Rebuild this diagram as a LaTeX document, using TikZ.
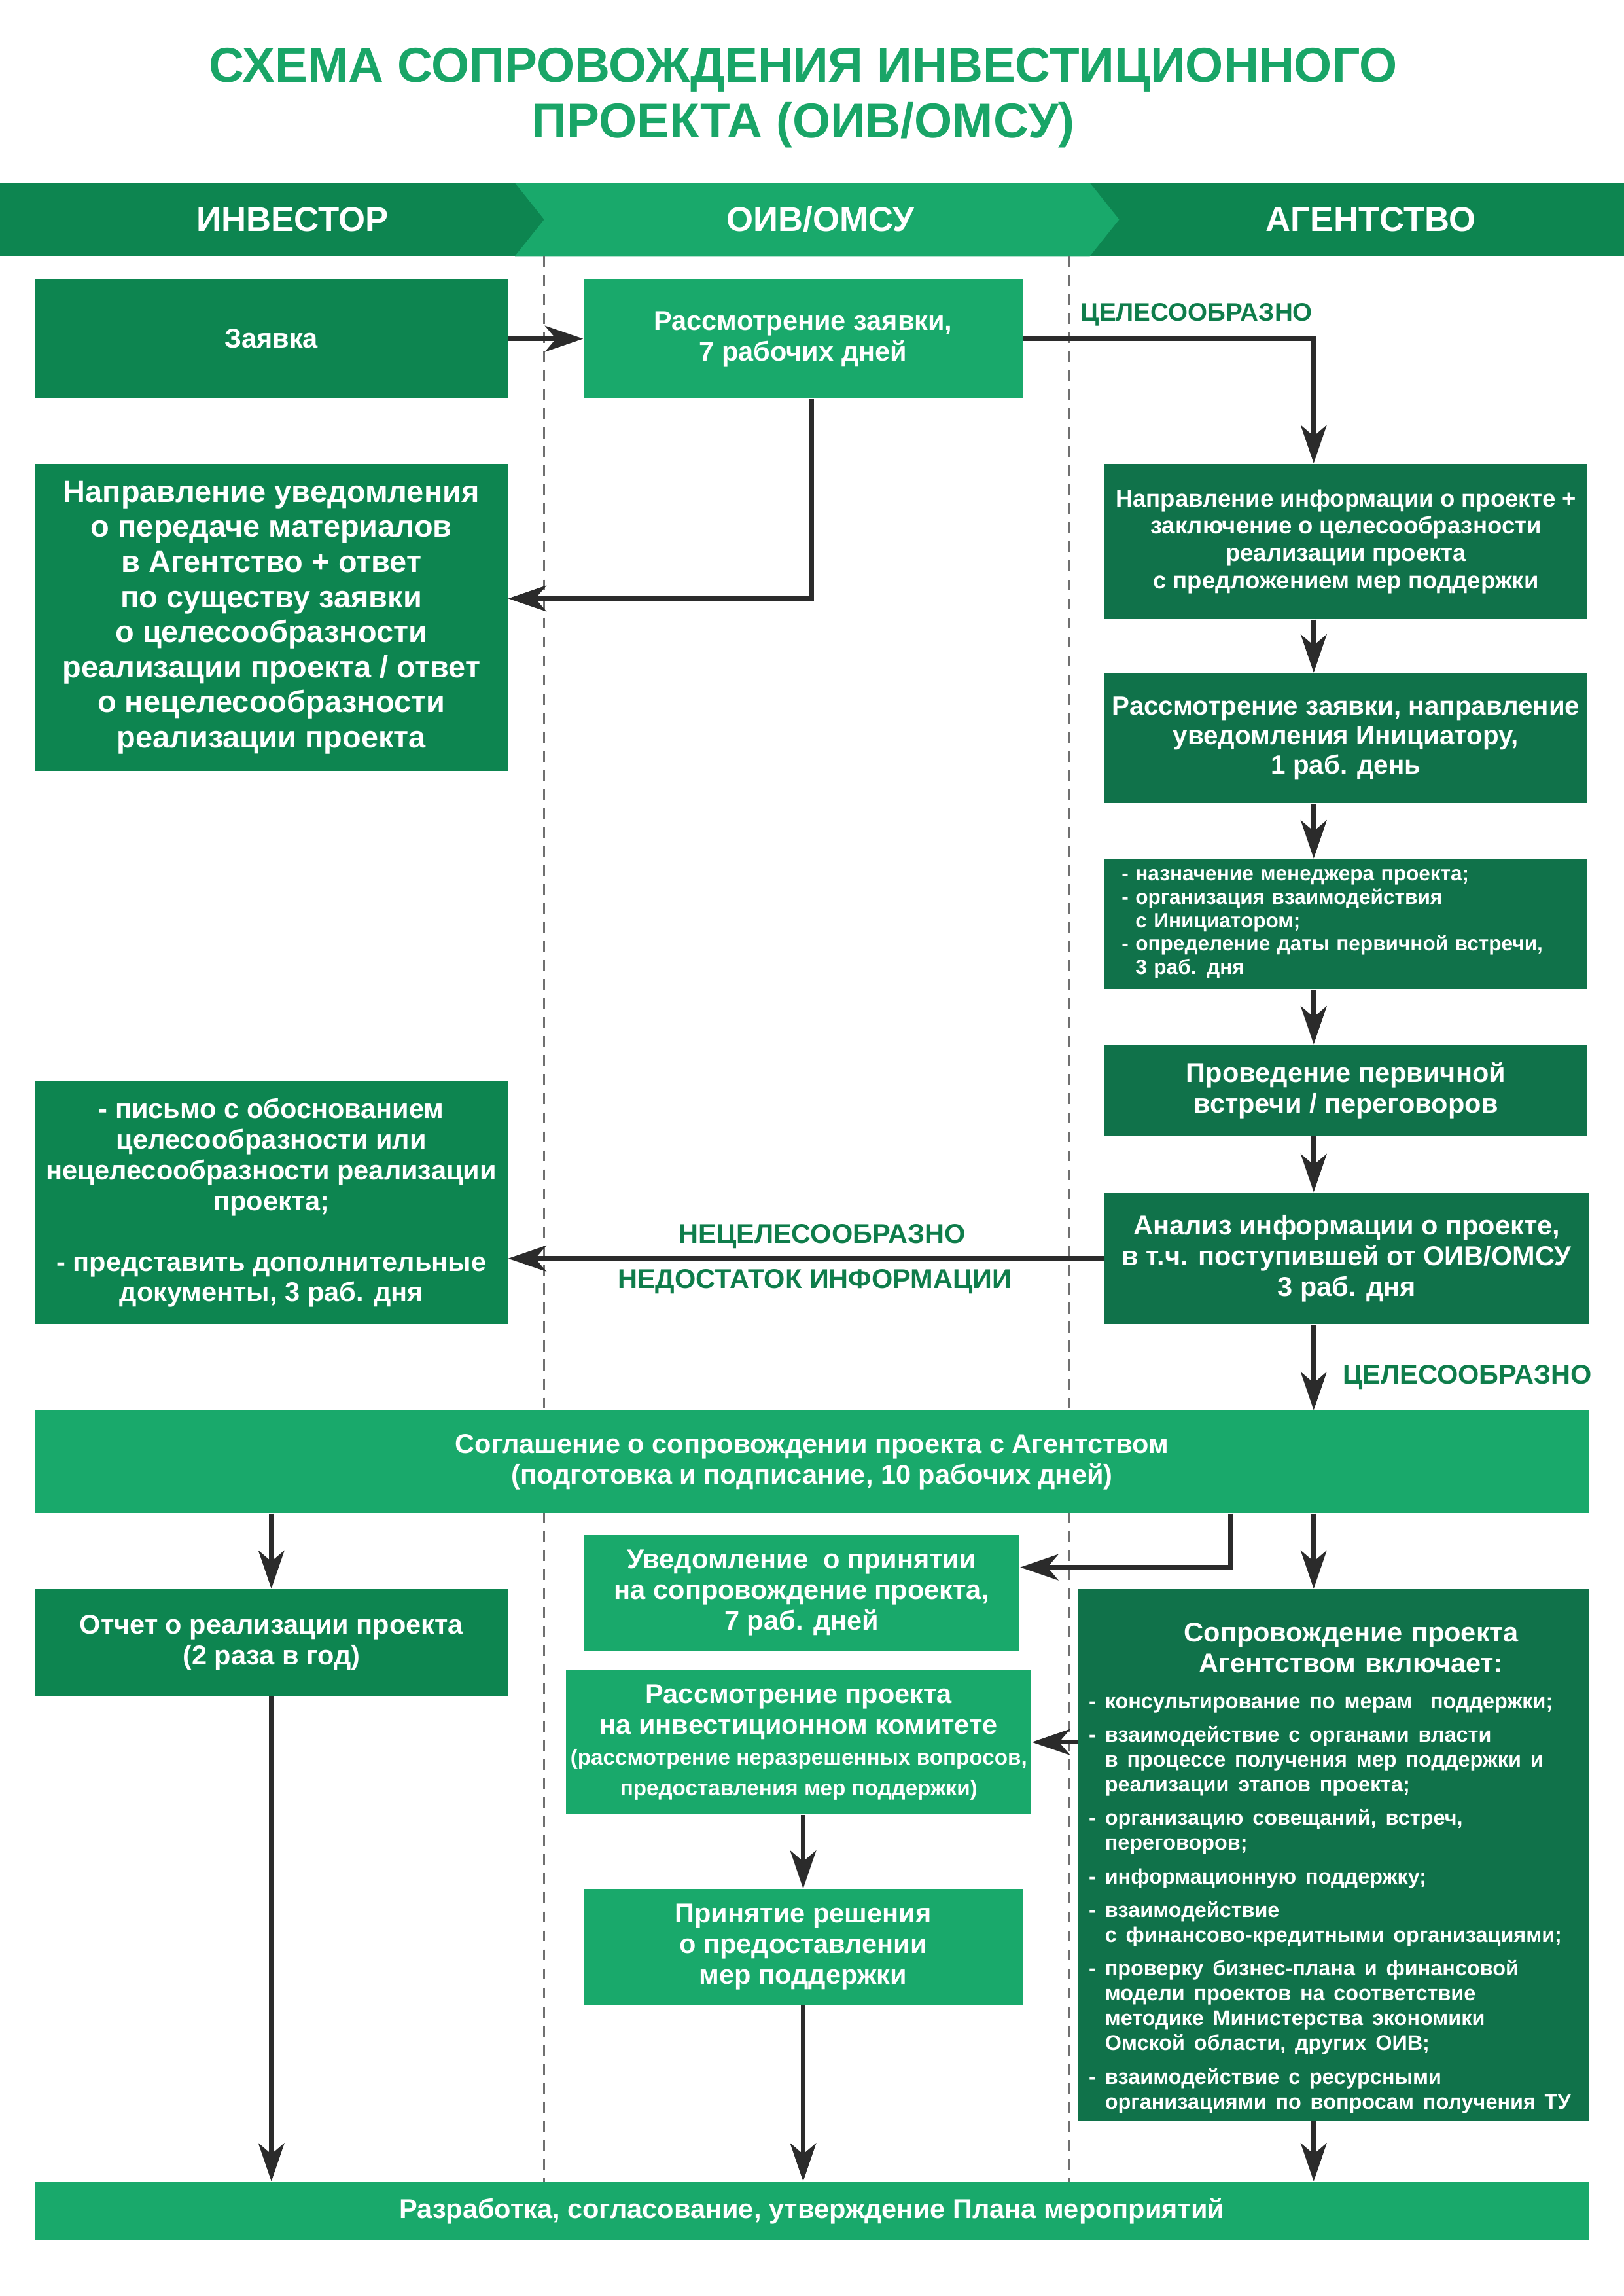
\documentclass[tikz,border=0pt]{standalone}
\usepackage{fontspec}
\setmainfont{Liberation Sans}
\usetikzlibrary{arrows.meta}

\definecolor{invgreen}{HTML}{0D8550}
\definecolor{oivgreen}{HTML}{19A96B}
\definecolor{aggreen}{HTML}{10724A}
\definecolor{titlegreen}{HTML}{19A567}
\definecolor{lblgreen}{HTML}{0F7D4B}
\definecolor{arrgray}{HTML}{2B2B2B}
\definecolor{dashgray}{HTML}{707070}

\newcommand{\dpx}{0.018919cm}

\tikzset{
  box/.style={rectangle, inner sep=0pt, align=center, text=white,
    font=\bfseries\fontsize{10}{11.3}\selectfont},
  inv/.style={box, fill=invgreen},
  oiv/.style={box, fill=oivgreen},
  ag/.style={box, fill=aggreen},
  arr/.style={draw=arrgray, line width=1.7pt,
    -{Stealth[length=14pt,width=9.5pt,inset=4pt]}},
  lbl/.style={text=lblgreen, font=\bfseries\fontsize{10}{12}\selectfont},
  head/.style={text=white, font=\bfseries\fontsize{12.7}{15}\selectfont},
}

\begin{document}
\begin{tikzpicture}[x=\dpx, y=-\dpx]
\useasboundingbox (0,0) rectangle (1110,1569);

% title
\node[text=titlegreen, align=center, font=\bfseries\fontsize{18}{20.5}\selectfont] (title) at (549,67)
  {СХЕМА СОПРОВОЖДЕНИЯ ИНВЕСТИЦИОННОГО\\ПРОЕКТА (ОИВ/ОМСУ)};

% header band
\fill[invgreen] (0,125) rectangle (1110,175);
\fill[oivgreen] (352,125) -- (745,125) -- (765,150) -- (745,175) -- (352,175) -- (372,150) -- cycle;
\node[head] (hinv) at (200,150) {ИНВЕСТОР};
\node[head] (hoiv) at (561,150) {ОИВ/ОМСУ};
\node[head] (hag) at (937,150) {АГЕНТСТВО};

% lane separators
\draw[dashgray, line width=0.6pt, dash pattern=on 4pt off 3pt] (372,175) -- (372,1491);
\draw[dashgray, line width=0.6pt, dash pattern=on 4pt off 3pt] (731,175) -- (731,1491);

% boxes
\node[inv, minimum width=323*\dpx, minimum height=81*\dpx] (zayavka) at (185.5,231.5) {Заявка};
\node[oiv, minimum width=300*\dpx, minimum height=81*\dpx] (rassm) at (549,231.5)
  {Рассмотрение заявки,\\ 7 рабочих дней};
\node[inv, minimum width=323*\dpx, minimum height=210*\dpx,
  font=\bfseries\fontsize{11.3}{12.9}\selectfont] (uved) at (185.5,422)
  {Направление уведомления\\ о передаче материалов\\ в Агентство + ответ\\ по существу заявки\\
   о целесообразности\\ реализации проекта / ответ\\ о нецелесообразности\\ реализации проекта};
\node[ag, minimum width=330*\dpx, minimum height=106*\dpx,
  font=\bfseries\fontsize{8.8}{10}\selectfont] (napr) at (920,370)
  {Направление информации о проекте +\\ заключение о целесообразности\\ реализации проекта\\ с предложением мер поддержки};
\node[ag, minimum width=330*\dpx, minimum height=89*\dpx,
  font=\bfseries\fontsize{9.7}{10.8}\selectfont] (rassm2) at (920,504.5)
  {Рассмотрение заявки, направление\\ уведомления Инициатору,\\ 1 раб. день};
\node[ag, minimum width=330*\dpx, minimum height=89*\dpx, align=left, text width=165pt,
  font=\bfseries\fontsize{7.6}{8.6}\selectfont] (spisok) at (920,631.5)
  {- назначение менеджера проекта;\\ - организация взаимодействия\\ \phantom{- }с Инициатором;\\
   - определение даты первичной встречи,\\ \phantom{- }3 раб. дня};
\node[ag, minimum width=330*\dpx, minimum height=62*\dpx] (vstr) at (920,745)
  {Проведение первичной\\ встречи / переговоров};
\node[ag, minimum width=331*\dpx, minimum height=90*\dpx] (analiz) at (920.5,860)
  {Анализ информации о проекте,\\ в т.ч. поступившей от ОИВ/ОМСУ\\ 3 раб. дня};
\node[inv, minimum width=323*\dpx, minimum height=166*\dpx] (pismo) at (185.5,822)
  {- письмо с обоснованием\\ целесообразности или\\ нецелесообразности реализации\\ проекта;\\[11pt]
   - представить дополнительные\\ документы, 3 раб. дня};
\node[oiv, minimum width=1062*\dpx, minimum height=70*\dpx] (sogl) at (555,999)
  {Соглашение о сопровождении проекта с Агентством\\ (подготовка и подписание, 10 рабочих дней)};
\node[oiv, minimum width=298*\dpx, minimum height=79*\dpx] (uvpr) at (548,1088.5)
  {Уведомление\ \ о принятии\\ на сопровождение проекта,\\ 7 раб. дней};
\node[inv, minimum width=323*\dpx, minimum height=73*\dpx] (otchet) at (185.5,1122.5)
  {Отчет о реализации проекта\\ (2 раза в год)};
\node[oiv, minimum width=318*\dpx, minimum height=99*\dpx] (komitet) at (546,1190.5)
  {Рассмотрение проекта\\ на инвестиционном комитете\\
   \fontsize{8}{9.2}\selectfont (рассмотрение неразрешенных вопросов,\\
   \fontsize{8}{9.2}\selectfont предоставления мер поддержки)};
\node[oiv, minimum width=300*\dpx, minimum height=79*\dpx] (reshenie) at (549,1330.5)
  {Принятие решения\\ о предоставлении\\ мер поддержки};
\node[rectangle, fill=aggreen, text=white, inner sep=0pt, font=\bfseries,
  minimum width=349*\dpx, minimum height=363*\dpx, text width=180pt] (soprov) at (911.5,1267.5)
  {{\centering\fontsize{10}{11.4}\selectfont \hspace*{13pt}Сопровождение проекта\\ \hspace*{13pt}Агентством включает:\par}
   \vspace{4pt}
   {\raggedright\fontsize{7.8}{9.15}\selectfont
   - консультирование по мерам\ \ поддержки;\\[3.2pt]
   - взаимодействие с органами власти\\ \phantom{- }в процессе получения мер поддержки и\\ \phantom{- }реализации этапов проекта;\\[3.2pt]
   - организацию совещаний, встреч,\\ \phantom{- }переговоров;\\[3.2pt]
   - информационную поддержку;\\[3.2pt]
   - взаимодействие\\ \phantom{- }с финансово-кредитными организациями;\\[3.2pt]
   - проверку бизнес-плана и финансовой\\ \phantom{- }модели проектов на соответствие\\
   \phantom{- }методике Министерства экономики\\ \phantom{- }Омской области, других ОИВ;\\[3.2pt]
   - взаимодействие с ресурсными\\ \phantom{- }организациями по вопросам получения ТУ\par}
   \vspace{-9.7pt}};
\node[oiv, minimum width=1062*\dpx, minimum height=40*\dpx] (plan) at (555,1511)
  {Разработка, согласование, утверждение Плана мероприятий};

% connector helpers
\coordinate (cx) at (898,0);
\coordinate (c1) at (555,409);
\coordinate (c2) at (841,1071);

% connectors
\draw[arr] (zayavka.east) -- (rassm.west);
\draw[arr] (rassm.south -| c1) |- (uved.east |- c1);
\draw[arr] (rassm.east) -| (napr.north -| cx);
\draw[arr] (napr.south -| cx) -- (rassm2.north -| cx);
\draw[arr] (rassm2.south -| cx) -- (spisok.north -| cx);
\draw[arr] (spisok.south -| cx) -- (vstr.north -| cx);
\draw[arr] (vstr.south -| cx) -- (analiz.north -| cx);
\draw[arr] (analiz.west) -- (analiz.west -| pismo.east);
\draw[arr] (analiz.south -| cx) -- (sogl.north -| cx);
\draw[arr] (sogl.south -| otchet.north) -- (otchet.north);
\draw[arr] (sogl.south -| c2) |- (uvpr.east |- c2);
\draw[arr] (sogl.south -| cx) -- (soprov.north -| cx);
\draw[arr] (soprov.west |- komitet.east) -- (komitet.east);
\draw[arr] (komitet.south -| reshenie.north) -- (reshenie.north);
\draw[arr] (otchet.south) -- (plan.north -| otchet.south);
\draw[arr] (reshenie.south) -- (plan.north -| reshenie.south);
\draw[arr] (soprov.south -| cx) -- (plan.north -| cx);

% connector labels
\node[lbl, font=\bfseries\fontsize{9.3}{11}\selectfont] (l1) at (818,215) {ЦЕЛЕСООБРАЗНО};
\node[lbl] (l2) at (562,845) {НЕЦЕЛЕСООБРАЗНО};
\node[lbl] (l3) at (557,876) {НЕДОСТАТОК ИНФОРМАЦИИ};
\node[lbl] (l4) at (1003,941) {ЦЕЛЕСООБРАЗНО};

\end{tikzpicture}
\end{document}
